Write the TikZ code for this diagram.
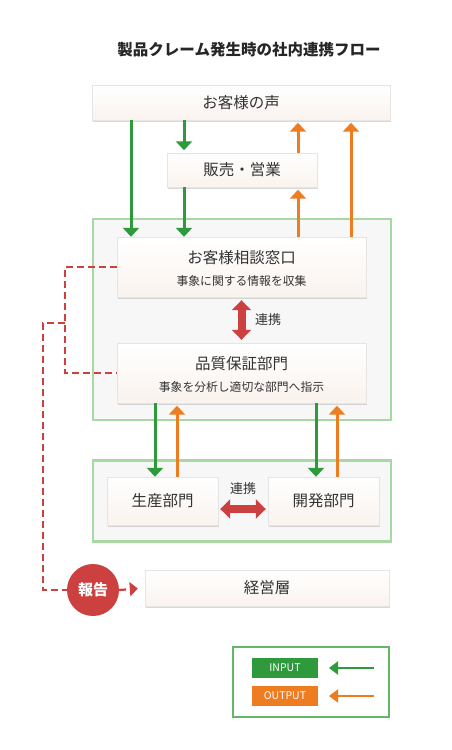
\documentclass[tikz,border=0pt]{standalone}
\usepackage{fontspec}
\setmainfont{Noto Sans CJK JP}
\usepackage{tikz}
\usetikzlibrary{shapes}
\usetikzlibrary{positioning}
\usetikzlibrary{arrows.meta,shadows}
\usepackage{xcolor}
\definecolor{ingreen}{HTML}{2E9A3C}
\definecolor{outorange}{HTML}{EE7D22}
\definecolor{repred}{HTML}{CD4040}
\definecolor{grpgreen}{HTML}{A8D8A4}
\definecolor{leggreen}{HTML}{62B865}
\definecolor{txtgray}{HTML}{333333}
\definecolor{boxbot}{HTML}{FAF3EE}

\begin{document}
\begin{tikzpicture}[x=1pt,y=-1pt,
		box/.style={draw=black!10, top color=white, bottom color=boxbot, inner sep=0pt,
			drop shadow={shadow xshift=1.2pt,shadow yshift=-1.5pt,opacity=.3},
			text=txtgray, font=\fontsize{15.5}{18}\selectfont},
		grp/.style={draw=grpgreen, line width=2.5pt, fill=black!3, inner sep=0pt},
		ttl/.style={text=txtgray, font=\fontsize{15.5}{18}\selectfont},
		sub/.style={text=txtgray, font=\fontsize{11.8}{13}\selectfont},
		inarr/.style={ingreen, line width=3pt, -{Triangle[width=16pt,length=9pt]}},
		outarr/.style={outorange, line width=3pt, -{Triangle[width=16pt,length=9pt]}},
		linkarr/.style={repred, line width=8pt, {Triangle[width=19pt,length=10pt]}-{Triangle[width=19pt,length=10pt]}},
		repline/.style={repred, line width=2.2pt, dash pattern=on 7pt off 4pt},
		legbox/.style={text=white, inner sep=0pt, minimum width=66pt, minimum height=20pt, font=\fontsize{10.5}{12}\selectfont}]
		\useasboundingbox (0,0) rectangle (452,750);
		\node[font=\bfseries\fontsize{15.5}{18}\selectfont, text=black!85] (title) at (249,50) {製品クレーム発生時の社内連携フロー};
		\node[box, minimum width=298pt, minimum height=35pt] (voice) at (241,102.5) {お客様の声};
		\node[box, minimum width=150pt, minimum height=34pt] (sales) at (242,170) {販売・営業};
		\node[grp, minimum width=298pt, minimum height=201pt] (grp1) at (242,319.5) {};
		\node[box, minimum width=249pt, minimum height=60pt] (consult) at (241.5,267) {};
		\node[ttl] (consultT) at (241.5,258) {お客様相談窓口};
		\node[sub] (consultS) at (241.5,281) {事象に関する情報を収集};
		\node[box, minimum width=249pt, minimum height=60pt] (qa) at (241.5,373) {};
		\node[ttl] (qaT) at (241.5,364) {品質保証部門};
		\node[sub] (qaS) at (241.5,387) {事象を分析し適切な部門へ指示};
		\node[grp, minimum width=298pt, minimum height=81pt] (grp2) at (242,501) {};
		\node[box, minimum width=111pt, minimum height=48pt] (prod) at (162.5,501) {生産部門};
		\node[box, minimum width=111pt, minimum height=48pt] (dev) at (323.5,501) {開発部門};
		\node[box, minimum width=244pt, minimum height=36pt] (mgmt) at (267,588) {経営層};
		\node[circle, fill=repred, minimum size=52pt, inner sep=0pt, text=white, font=\bfseries\fontsize{15}{18}\selectfont] (report) at (93,590) {報告};
		\node[draw=leggreen, line width=1.2pt, fill=white, minimum width=156pt, minimum height=70pt] (legend) at (311,682) {};
		\node[legbox, fill=ingreen] (inbox) at (285,668) {INPUT};
		\node[legbox, fill=outorange] (outbox) at (285,696) {OUTPUT};
		\node[ttl, font=\fontsize{13}{15}\selectfont] (link1) at (268,320) {連携};
		\node[ttl, font=\fontsize{13}{15}\selectfont] (link2) at (243,489) {連携};
		\coordinate (colA) at (131,0);
		\coordinate (colB) at (184,0);
		\coordinate (colC) at (298,0);
		\coordinate (colD) at (351,0);
		\coordinate (colE) at (155,0);
		\coordinate (colF) at (177,0);
		\coordinate (colG) at (316,0);
		\coordinate (colH) at (337,0);
		\coordinate (rowL) at (0,509);
		\coordinate (dl) at (65,323);
		\coordinate (dk) at (43,323);
		\coordinate (inS) at (374,668);
		\coordinate (inE) at (329,668);
		\coordinate (outS) at (374,696);
		\coordinate (outE) at (329,696);
		\draw[inarr] (colA |- voice.south) to (colA |- consult.north);
		\draw[inarr, shorten >=2.5pt] (colB |- voice.south) to (colB |- sales.north);
		\draw[inarr] (colB |- sales.south) to (colB |- consult.north);
		\draw[outarr, shorten >=2.5pt] (colC |- consult.north) to (colC |- sales.south);
		\draw[outarr, shorten >=2.5pt] (colC |- sales.north) to (colC |- voice.south);
		\draw[outarr, shorten >=2.5pt] (colD |- consult.north) to (colD |- voice.south);
		\draw[inarr] (colE |- qa.south) to (colE |- prod.north);
		\draw[outarr, shorten >=2.5pt] (colF |- prod.north) to (colF |- qa.south);
		\draw[inarr] (colG |- qa.south) to (colG |- dev.north);
		\draw[outarr, shorten >=2.5pt] (colH |- dev.north) to (colH |- qa.south);
		\draw[linkarr, shorten <=3pt, shorten >=3pt] (consult.south) to (qa.north);
		\draw[linkarr, shorten <=2pt, shorten >=2pt] (prod.east |- rowL) to (dev.west |- rowL);
		\draw[repline] (consult.west) -- (consult.west -| dl) -- (qa.west -| dl) -- (qa.west);
		\draw[repline] (dl) -- (dk) -- (dk |- report.west) -- (report.west);
		\draw[repline, -{Triangle[width=14pt,length=8pt]}, shorten >=7pt] (report.east) -- (mgmt.west);
		\draw[inarr, line width=2pt, -{Triangle[width=13pt,length=9pt]}] (inS) to (inE);
		\draw[outarr, line width=2pt, -{Triangle[width=13pt,length=9pt]}] (outS) to (outE);
\end{tikzpicture}
\end{document}
